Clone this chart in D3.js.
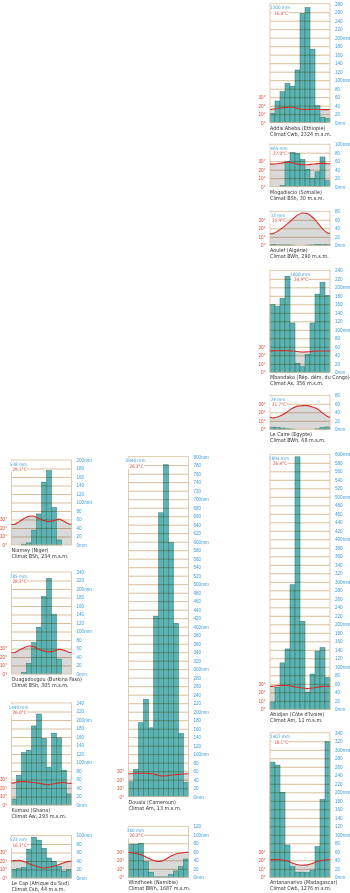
<!DOCTYPE html>
<html>
<head>
<meta charset="utf-8">
<script src="https://cdn.jsdelivr.net/npm/d3@7"></script>
<style>
  body { margin: 0; background: #fff; }
  svg { display: block; font-family: "Liberation Sans Narrow", "DejaVu Sans Condensed", "Liberation Sans", sans-serif; }
</style>
</head>
<body>
<script>
// --- data -------------------------------------------------------------
const months = d3.range(12);

const cities = [
  "Addis Abeba (Ethiopie)", "Mogadiscio (Somalie)", "Aoulef (Algérie)",
  "Mbandaka (Rép. dém. du Congo)", "Le Caire (Egypte)", "Abidjan (Côte d'Ivoire)",
  "Antananarivo (Madagascar)", "Niamey (Niger)", "Ouagadougou (Burkina Faso)",
  "Kumasi (Ghana)", "Le Cap (Afrique du Sud)", "Douala (Cameroun)", "Windhoek (Namibie)"
];
const climates = [
  "Climat Cwb, 2324 m.s.m.", "Climat BSh, 30 m.s.m.", "Climat BWh, 290 m.s.m.",
  "Climat As, 356 m.s.m.", "Climat BWh, 68 m.s.m.", "Climat Am, 11 m.s.m.",
  "Climat Cwb, 1276 m.s.m.", "Climat BSh, 234 m.s.m.", "Climat BSh, 305 m.s.m.",
  "Climat Aw, 293 m.s.m.", "Climat Csb, 44 m.s.m.", "Climat Am, 13 m.s.m.",
  "Climat BWh, 1687 m.s.m."
];
const annualPrecip = ["1200 mm", "465 mm", "12 mm", "1600 mm", "24 mm", "1894 mm", "1402 mm",
  "538 mm", "785 mm", "1440 mm", "523 mm", "3840 mm", "360 mm"];
const annualTemp = ["16.4°C", "27.0°C", "25.9°C", "24.9°C", "21.7°C", "26.4°C", "18.1°C",
  "29.1°C", "28.3°C", "26.0°C", "16.3°C", "26.2°C", "20.2°C"];

// monthly precipitation (mm), Jan..Dec
const precip = [
  [22, 51, 73, 92, 86, 124, 257, 271, 173, 40, 13, 10],
  [0, 0, 3, 60, 80, 78, 64, 41, 20, 35, 70, 14],
  [2, 1, 1, 1, 0.5, 0, 0, 0.5, 1, 2, 1.5, 1.5],
  [159, 155, 174, 226, 116, 21, 13, 42, 116, 184, 212, 181],
  [5, 4, 3, 1, 0.5, 0, 0, 0, 0, 1, 4, 5.5],
  [17, 52, 109, 142, 293, 594, 207, 40, 83, 137, 145, 75],
  [271, 264, 200, 76, 25, 12, 12, 11, 17, 72, 183, 319],
  [0, 0, 2, 5, 35, 73, 148, 175, 88, 12, 0, 0],
  [0, 0, 4, 25, 74, 110, 182, 225, 140, 35, 0, 0],
  [14, 70, 123, 129, 186, 214, 157, 89, 169, 158, 82, 26],
  [20, 22, 25, 68, 96, 89, 70, 47, 39, 27, 16, 20],
  [35, 64, 174, 229, 162, 425, 668, 781, 598, 408, 149, 33],
  [78, 78, 80, 37, 12, 1, 1, 1, 7, 15, 25, 43]
];
// monthly mean temperature (°C), Jan..Dec
const temp = [
  [15.8, 16.8, 17.6, 18.0, 18.2, 17.0, 15.6, 15.6, 15.8, 15.8, 15.4, 15.4],
  [26.6, 27.0, 28.0, 28.8, 28.0, 26.6, 25.8, 25.9, 26.5, 27.1, 27.4, 27.0],
  [13.5, 16.5, 20.5, 25.5, 30.5, 35.5, 38.0, 37.0, 33.0, 26.5, 19.5, 14.5],
  [25.2, 25.4, 25.5, 25.3, 25.1, 24.4, 23.8, 24.1, 24.6, 25.0, 25.0, 25.0],
  [13.5, 14.5, 17.0, 20.8, 24.8, 27.3, 27.8, 27.8, 26.3, 23.8, 19.3, 15.2],
  [27.0, 28.0, 28.0, 28.0, 27.0, 26.0, 25.0, 24.5, 25.0, 26.0, 27.0, 27.0],
  [20.8, 20.9, 20.4, 19.2, 16.8, 14.8, 14.2, 14.6, 16.4, 18.6, 20.0, 20.6],
  [24.2, 27.2, 31.2, 33.8, 33.8, 31.2, 28.8, 27.4, 28.8, 30.4, 27.8, 24.8],
  [25.0, 28.0, 31.0, 33.0, 32.0, 29.0, 27.0, 26.0, 27.0, 29.0, 28.0, 25.5],
  [26.0, 27.5, 27.5, 27.0, 26.5, 25.5, 24.5, 24.0, 25.0, 26.0, 26.5, 25.5],
  [20.5, 20.8, 19.4, 16.8, 14.6, 12.6, 11.8, 12.6, 13.8, 15.8, 18.0, 19.6],
  [27.0, 27.5, 27.5, 27.5, 27.0, 26.0, 24.5, 24.5, 25.5, 26.0, 26.5, 27.0],
  [29.0, 28.0, 26.5, 24.0, 21.0, 19.0, 19.0, 21.5, 25.0, 27.5, 28.5, 29.5]
];

// --- layout: left edge of plot, baseline (0 mm), top of scale, label offset
const layout = [
  { x: 270, y0: 122.7, max: 280, lab: 10 },
  { x: 270, y0: 186.7, max: 100, lab: 9 },
  { x: 270, y0: 245.3, max: 80, lab: 8 },
  { x: 270, y0: 372.3, max: 240, lab: 30 },
  { x: 270, y0: 429.3, max: 80, lab: 8 },
  { x: 270, y0: 709.3, max: 600, lab: 9 },
  { x: 270, y0: 877.3, max: 340, lab: 10 },
  { x: 11.5, y0: 545, max: 200, lab: 7 },
  { x: 11.5, y0: 674, max: 240, lab: 7 },
  { x: 11.5, y0: 805, max: 240, lab: 7 },
  { x: 11.5, y0: 878, max: 100, lab: 7 },
  { x: 128.5, y0: 796.7, max: 800, lab: 7 },
  { x: 128.5, y0: 877.3, max: 120, lab: 7 }
];

const W = 350, H = 893;
const pxPerMm = 0.425;
const plotW = 60;

const cGrid = "#d9bf9c", cBar = "#5cb3b1", cBarEdge = "#2e7574",
      cRed = "#d52b25", cRedText = "#e5452f", cBlue = "#3d9fdc", cGrey = "#d9d9d9";

const svg = d3.select("body").append("svg")
  .attr("width", W).attr("height", H)
  .attr("viewBox", [0, 0, W, H]);

cities.forEach((name, i) => {
  const L = layout[i];
  const g = svg.append("g");
  const x = d3.scaleBand().domain(months).range([L.x, L.x + plotW]);
  const xc = d3.scaleLinear().domain([-0.5, 11.5]).range([L.x, L.x + plotW]);
  const y = d3.scaleLinear().domain([0, L.max]).range([L.y0, L.y0 - L.max * pxPerMm]);
  const top = y(L.max);

  // temperature: 10 °C = 20 mm, ends joined over Dec/Jan
  const t = temp[i];
  const edge = (t[0] + t[11]) / 2;
  const pts = [[-0.5, edge], ...months.map(m => [m, t[m]]), [11.5, edge]];

  g.append("path")
    .datum(pts)
    .attr("fill", cGrey)
    .attr("d", d3.area().curve(d3.curveCatmullRom)
      .x(d => xc(d[0])).y0(y(0)).y1(d => y(d[1] * 2)));

  g.append("g").selectAll("rect")
    .data(precip[i])
    .join("rect")
      .attr("x", (d, m) => x(m))
      .attr("width", x.bandwidth())
      .attr("y", d => y(d))
      .attr("height", d => y(0) - y(d))
      .attr("fill", cBar)
      .attr("stroke", cBarEdge)
      .attr("stroke-width", 0.5);

  // horizontal grid every 20 mm
  const grid = g.append("g")
    .attr("transform", `translate(${L.x},0)`)
    .style("mix-blend-mode", "multiply")
    .call(d3.axisRight(y).tickValues(d3.range(20, L.max, 20)).tickSize(plotW).tickFormat(""));
  grid.select(".domain").remove();
  grid.selectAll("line").attr("stroke", cGrid).attr("stroke-width", 1);

  g.append("rect")
    .attr("x", L.x).attr("y", top)
    .attr("width", plotW).attr("height", L.y0 - top)
    .attr("fill", "none").attr("stroke", cGrid).attr("stroke-width", 0.8);

  g.append("path")
    .datum(pts)
    .attr("fill", "none")
    .attr("stroke", cRed)
    .attr("stroke-width", 1.1)
    .attr("d", d3.line().curve(d3.curveCatmullRom).x(d => xc(d[0])).y(d => y(d[1] * 2)));

  // right axis: precipitation
  const ra = g.append("g")
    .attr("transform", `translate(${L.x + plotW + 2},0)`)
    .call(d3.axisRight(y).tickValues(d3.range(0, L.max + 1, 20)).tickSize(0)
      .tickFormat(d => d % 100 === 0 ? d + "mm" : d));
  ra.select(".domain").remove();
  ra.selectAll("text").attr("fill", cBlue).attr("font-size", 4.6).attr("font-family", null);

  // left axis: temperature
  const la = g.append("g")
    .attr("transform", `translate(${L.x - 1.5},0)`)
    .call(d3.axisLeft(y).tickValues([0, 20, 40, 60]).tickSize(0).tickFormat(d => d / 2 + "°"));
  la.select(".domain").remove();
  la.selectAll("text").attr("fill", cRedText).attr("font-size", 4.6).attr("font-family", null);

  // annual values
  const lx = L.x + L.lab;
  g.append("rect")
    .attr("x", lx - 8.5).attr("y", top + 1.2)
    .attr("width", 17).attr("height", 11)
    .attr("fill", "#fff");
  g.append("text")
    .attr("x", lx).attr("y", top + 5.6)
    .attr("text-anchor", "middle").attr("font-size", 4.6).attr("fill", cBlue)
    .text(annualPrecip[i]);
  g.append("text")
    .attr("x", lx + 1).attr("y", top + 11)
    .attr("text-anchor", "middle").attr("font-size", 4.6).attr("fill", cRedText)
    .text(annualTemp[i]);

  // station captions
  g.append("text")
    .attr("x", L.x).attr("y", L.y0 + 7)
    .attr("font-size", 5.4).attr("fill", "#333")
    .text(name);
  g.append("text")
    .attr("x", L.x).attr("y", L.y0 + 13)
    .attr("font-size", 5.4).attr("fill", "#333")
    .text(climates[i]);
});
</script>
</body>
</html>
